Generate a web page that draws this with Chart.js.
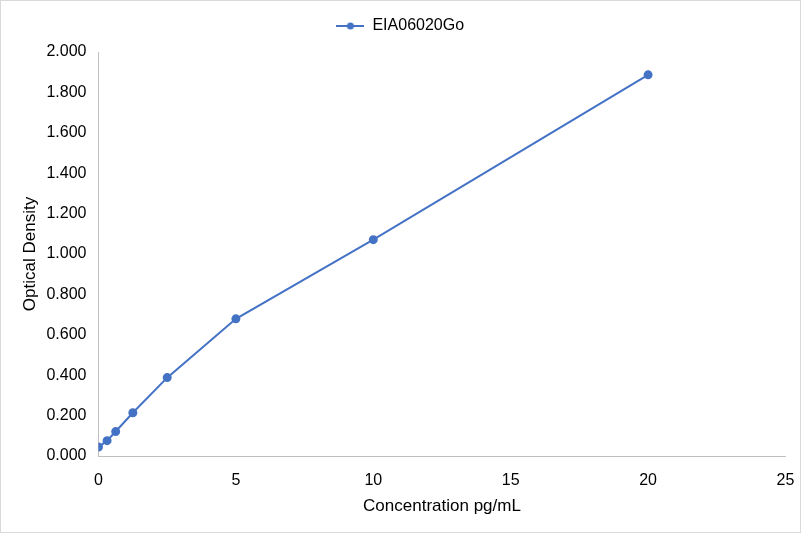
<!DOCTYPE html>
<html>
<head>
<meta charset="utf-8">
<script src="https://cdn.jsdelivr.net/npm/chart.js@4/dist/chart.umd.min.js"></script>
<style>
  html, body { margin: 0; padding: 0; background: #fff; }
  #wrap { width: 801px; height: 533px; position: relative; }
</style>
</head>
<body>
<div id="wrap"><canvas id="chart"></canvas></div>
<script>
// data
var seriesName = 'EIA06020Go';
var concentrations = [0, 0.3125, 0.625, 1.25, 2.5, 5, 10, 20];
var densities = [0.044, 0.076, 0.121, 0.214, 0.388, 0.679, 1.071, 1.887];
var xTitle = 'Concentration pg/mL';
var yTitle = 'Optical Density';

var blue = '#4472c4';
var font = "'Liberation Sans', Arial, sans-serif";

// legend marker: short line with a dot in the middle
var marker = document.createElement('canvas');
marker.width = 28;
marker.height = 10;
var mctx = marker.getContext('2d');
mctx.strokeStyle = blue;
mctx.lineWidth = 2;
mctx.beginPath();
mctx.moveTo(0, 5);
mctx.lineTo(28, 5);
mctx.stroke();
mctx.fillStyle = blue;
mctx.beginPath();
mctx.arc(14, 5, 3.5, 0, Math.PI * 2);
mctx.fill();

var frame = {
    id: 'frame',
    beforeDraw: function (chart) {
        var c = chart.ctx;
        c.save();
        c.fillStyle = '#fff';
        c.fillRect(0, 0, chart.width, chart.height);
        c.strokeStyle = '#d9d9d9';
        c.lineWidth = 1;
        c.strokeRect(0.5, 0.5, chart.width - 1, chart.height - 1);
        c.restore();
    }
};

var chart = new Chart(document.getElementById('chart').getContext('2d'), {
    type: 'scatter',
    data: {
        datasets: [{
            label: seriesName,
            data: concentrations.map(function (x, i) { return {x: x, y: densities[i]}; }),
            showLine: true,
            borderColor: blue,
            backgroundColor: blue,
            borderWidth: 2,
            pointStyle: 'circle',
            pointRadius: 3.5,
            pointHoverRadius: 3.5
        }]
    },
    options: {
        responsive: true,
        maintainAspectRatio: false,
        animation: false,
        layout: {
            padding: {top: 4, right: 15.5, bottom: 0, left: 0}
        },
        plugins: {
            tooltip: {enabled: false},
            legend: {
                position: 'top',
                labels: {
                    usePointStyle: true,
                    pointStyleWidth: 28,
                    padding: 14,
                    color: '#000',
                    font: {family: font, size: 16},
                    generateLabels: function (ch) {
                        return [{
                            text: seriesName,
                            pointStyle: marker,
                            fillStyle: blue,
                            strokeStyle: blue,
                            lineWidth: 0,
                            datasetIndex: 0,
                            fontColor: '#000'
                        }];
                    }
                }
            }
        },
        scales: {
            x: {
                type: 'linear',
                min: 0,
                max: 25,
                grid: {display: false, drawTicks: false},
                border: {display: true, color: '#bfbfbf', width: 1},
                ticks: {
                    stepSize: 5,
                    padding: 15,
                    color: '#000',
                    font: {family: font, size: 16}
                },
                title: {
                    display: true,
                    text: xTitle,
                    color: '#000',
                    font: {family: font, size: 17},
                    padding: {top: 0, bottom: 16}
                },
                afterFit: function (scale) {
                    scale.height = 77;
                    scale.paddingLeft = 0;
                    scale.paddingRight = 0;
                }
            },
            y: {
                type: 'linear',
                min: 0,
                max: 2,
                grid: {display: false, drawTicks: false},
                border: {display: true, color: '#bfbfbf', width: 1},
                ticks: {
                    stepSize: 0.2,
                    padding: 12,
                    color: '#000',
                    font: {family: font, size: 16},
                    callback: function (v) { return v.toFixed(3); }
                },
                title: {
                    display: true,
                    text: yTitle,
                    color: '#000',
                    font: {family: font, size: 17},
                    padding: {top: 20, bottom: 0}
                },
                afterFit: function (scale) { scale.width = 98.5; }
            }
        }
    },
    plugins: [frame]
});

// more room under the legend, and center it on the whole canvas
var legendFit = chart.legend.fit;
chart.legend.fit = function () {
    legendFit.call(this);
    this.height += 8;
    if (this.lineWidths) {
        this.lineWidths = this.lineWidths.map(function (w) { return w - 15; });
    }
};
chart.update();
</script>
</body>
</html>
